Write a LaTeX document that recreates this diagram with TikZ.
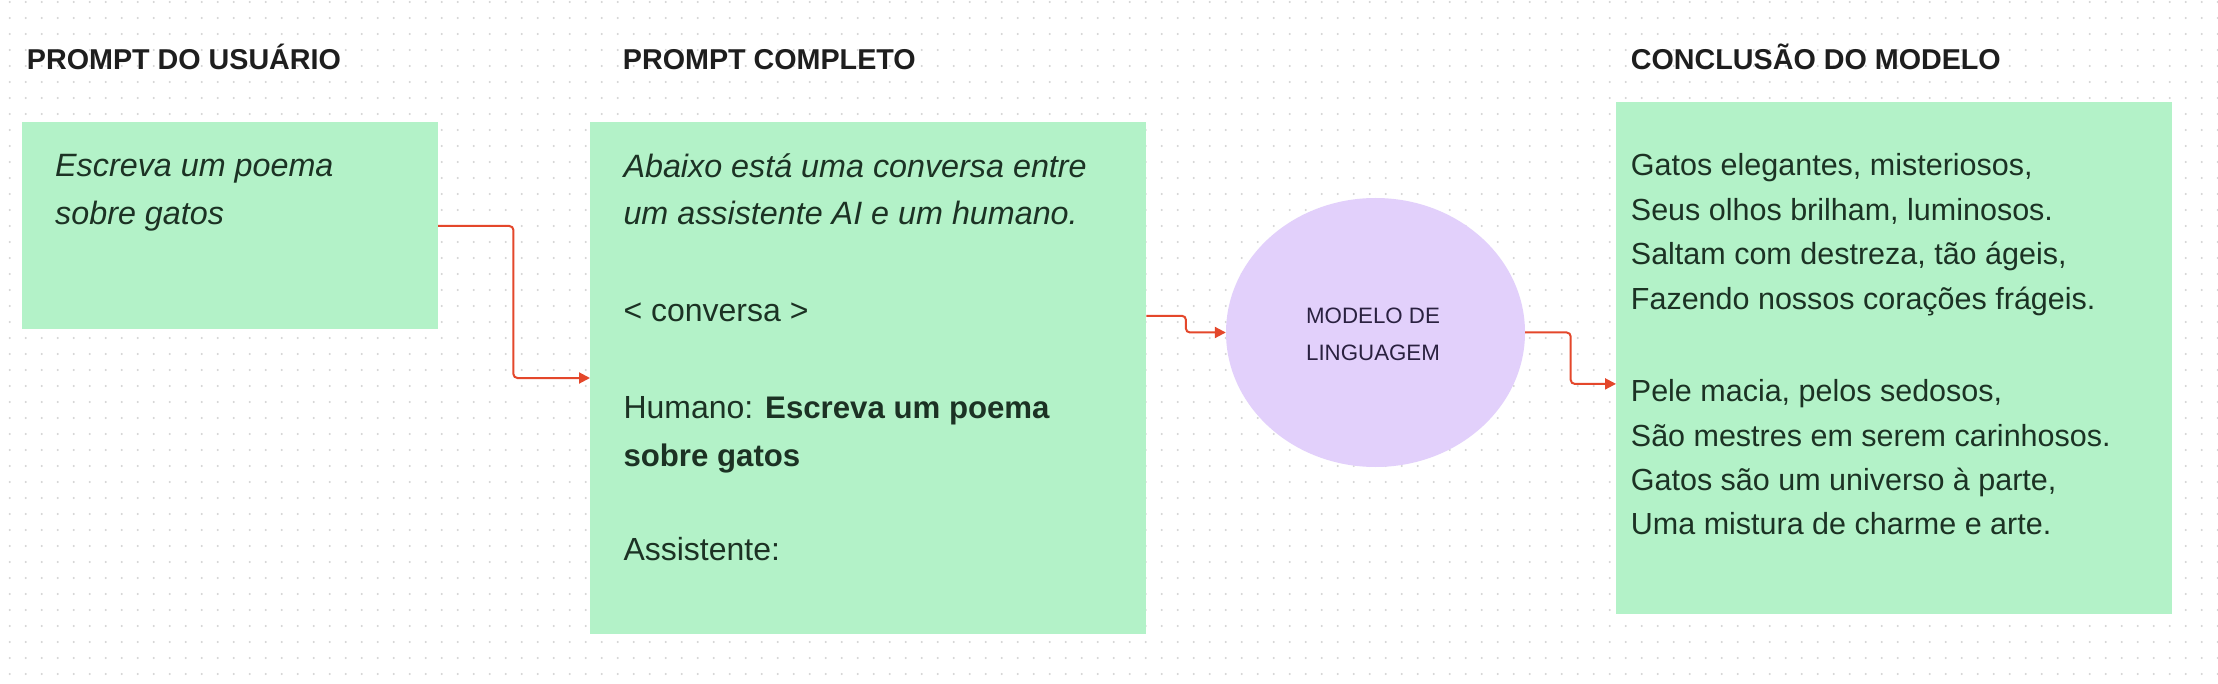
\documentclass[tikz,border=0pt]{standalone}
\usepackage{fontspec}
\setmainfont{Liberation Sans}
\usetikzlibrary{arrows.meta,shapes.geometric}
\definecolor{boxgreen}{HTML}{B3F2C8}
\definecolor{ovalpurple}{HTML}{E2D0FB}
\definecolor{linkred}{HTML}{E4472B}
\definecolor{dotgray}{HTML}{D3D3D3}
\definecolor{titletxt}{HTML}{1E1E1E}
\definecolor{boxtxt}{HTML}{1C3224}
\definecolor{ovaltxt}{HTML}{2A2140}
\begin{document}
\begin{tikzpicture}[x=1pt,y=-1pt,
  card/.style={fill=boxgreen, draw=none, inner sep=0pt, anchor=north west},
  heading/.style={font=\bfseries\fontsize{28.7}{34}\selectfont, text=titletxt, inner sep=0pt, anchor=base west},
  body/.style={font=\fontsize{32}{48}\selectfont, text=boxtxt, inner sep=0pt, anchor=base west},
  bodyit/.style={font=\itshape\fontsize{32.3}{48}\selectfont, text=boxtxt, inner sep=0pt, anchor=base west},
  bodybf/.style={font=\bfseries\fontsize{31.2}{48}\selectfont, text=boxtxt, inner sep=0pt, anchor=base west},
  poem/.style={font=\fontsize{30.5}{44}\selectfont, text=boxtxt, inner sep=0pt, anchor=base west},
  ovallabel/.style={font=\fontsize{22.3}{36}\selectfont, text=ovaltxt, inner sep=0pt, anchor=base},
  link/.style={draw=linkred, line width=2pt, rounded corners=4pt, -{Triangle[length=11pt,width=11pt]}},
  dotrow/.style={dotgray, line width=2.2pt, line cap=round, dash pattern=on 0pt off 16pt}
]
\useasboundingbox (0,0) rectangle (2218,684);
\fill[white] (0,0) rectangle (2218,684);
\foreach \yy in {2,18,...,682} \draw[dotrow] (9.7,\yy) -- (2218,\yy);

% boxes
\node[card, minimum width=415.7pt, minimum height=207pt] (b1) at (22,122.3) {};
\node[card, minimum width=556pt, minimum height=511pt] (b2) at (590,122.3) {};
\node[card, minimum width=555.7pt, minimum height=511pt] (b3) at (1616,102.3) {};
\node[ellipse, fill=ovalpurple, draw=none, minimum width=299pt, minimum height=269pt, inner sep=0pt] (llm) at (1375.5,332.5) {};

% headings
\node[heading] (h1) at (26.7,70) {PROMPT DO USUÁRIO};
\node[heading] (h2) at (622.7,70) {PROMPT COMPLETO};
\node[heading] (h3) at (1630.7,70) {CONCLUSÃO DO MODELO};

% box 1
\node[bodyit] (u1) at (55,176.7) {Escreva um poema};
\node[bodyit] (u2) at (55,225) {sobre gatos};

% box 2
\node[bodyit] (c1) at (623.3,177.3) {Abaixo está uma conversa entre};
\node[bodyit] (c2) at (623.3,225) {um assistente AI e um humano.};
\node[body] (c3) at (623.3,321.7) {< conversa >};
\node[body] (c4) at (623.3,418.3) {Humano: {\bfseries\fontsize{31.2}{48}\selectfont Escreva um poema}};
\node[bodybf] (c5) at (623.3,466) {sobre gatos};
\node[body] (c6) at (623.3,560.7) {Assistente:};

% model
\node[ovallabel] (m1) at (1373,323.3) {MODELO DE};
\node[ovallabel] (m2) at (1373,360) {LINGUAGEM};

% box 3
\node[poem] (p1) at (1630.7,175.7) {Gatos elegantes, misteriosos,};
\node[poem] (p2) at (1630.7,220.2) {Seus olhos brilham, luminosos.};
\node[poem] (p3) at (1630.7,264.8) {Saltam com destreza, tão ágeis,};
\node[poem] (p4) at (1630.7,309.3) {Fazendo nossos corações frágeis.};
\node[poem] (p5) at (1630.7,401.7) {Pele macia, pelos sedosos,};
\node[poem] (p6) at (1630.7,446) {São mestres em serem carinhosos.};
\node[poem] (p7) at (1630.7,490.2) {Gatos são um universo à parte,};
\node[poem] (p8) at (1630.7,534.3) {Uma mistura de charme e arte.};

% connectors
\draw[link] (b1.east) -- ++(75.3,0) |- (b2.west);
\draw[link] ([yshift=62.2pt]b2.east) -- ++(39.5,0) |- (llm.west);
\draw[link] (llm.east) -- ++(45.5,0) |- ([yshift=-25.9pt]b3.west);
\end{tikzpicture}
\end{document}
